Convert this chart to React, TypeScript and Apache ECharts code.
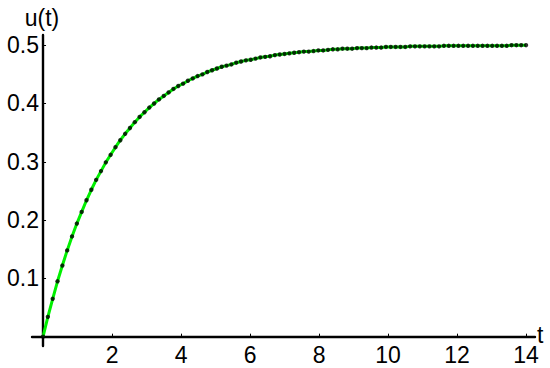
import React, { useEffect, useRef } from "react";
import * as echarts from "echarts";

const tValues = [
  0, 0.14, 0.28, 0.42, 0.56, 0.7, 0.84, 0.98, 1.12, 1.26,
  1.4, 1.54, 1.68, 1.82, 1.96, 2.1, 2.24, 2.38, 2.52, 2.66,
  2.8, 2.94, 3.08, 3.22, 3.36, 3.5, 3.64, 3.78, 3.92, 4.06,
  4.2, 4.34, 4.48, 4.62, 4.76, 4.9, 5.04, 5.18, 5.32, 5.46,
  5.6, 5.74, 5.88, 6.02, 6.16, 6.3, 6.44, 6.58, 6.72, 6.86,
  7, 7.14, 7.28, 7.42, 7.56, 7.7, 7.84, 7.98, 8.12, 8.26,
  8.4, 8.54, 8.68, 8.82, 8.96, 9.1, 9.24, 9.38, 9.52, 9.66,
  9.8, 9.94, 10.08, 10.22, 10.36, 10.5, 10.64, 10.78, 10.92, 11.06,
  11.2, 11.34, 11.48, 11.62, 11.76, 11.9, 12.04, 12.18, 12.32, 12.46,
  12.6, 12.74, 12.88, 13.02, 13.16, 13.3, 13.44, 13.58, 13.72, 13.86,
  14,
];

const uValues = [
  0, 0.034, 0.065, 0.095, 0.122, 0.148, 0.172, 0.194, 0.214, 0.234,
  0.252, 0.269, 0.284, 0.299, 0.312, 0.325, 0.337, 0.348, 0.358, 0.368,
  0.377, 0.385, 0.393, 0.4, 0.407, 0.413, 0.419, 0.425, 0.43, 0.434,
  0.439, 0.443, 0.447, 0.45, 0.454, 0.457, 0.46, 0.463, 0.465, 0.467,
  0.47, 0.472, 0.474, 0.475, 0.477, 0.479, 0.48, 0.481, 0.483, 0.484,
  0.485, 0.486, 0.487, 0.488, 0.489, 0.489, 0.49, 0.491, 0.491, 0.492,
  0.493, 0.493, 0.494, 0.494, 0.494, 0.495, 0.495, 0.495, 0.496, 0.496,
  0.496, 0.497, 0.497, 0.497, 0.497, 0.497, 0.498, 0.498, 0.498, 0.498,
  0.498, 0.498, 0.498, 0.499, 0.499, 0.499, 0.499, 0.499, 0.499, 0.499,
  0.499, 0.499, 0.499, 0.499, 0.499, 0.499, 0.499, 0.5, 0.5, 0.5,
  0.5,
];

const xTicks = [2, 4, 6, 8, 10, 12, 14];
const yTicks = [0.1, 0.2, 0.3, 0.4, 0.5];

const FONT = "Liberation Sans, Arial, Helvetica, sans-serif";

export default function App() {
  const ref = useRef<HTMLDivElement>(null);

  useEffect(() => {
    document.body.style.margin = "0";
    if (!ref.current) return;
    const chart = echarts.init(ref.current, null, { renderer: "svg" });
    const pts = tValues.map((t, i) => [t, uValues[i]]);
    chart.setOption({
      animation: false,
      backgroundColor: "#ffffff",
      grid: {
        left: 32,
        right: 15,
        top: 35,
        bottom: 22,
        containLabel: false,
        outerBoundsMode: "none",
      },
      xAxis: {
        type: "value",
        min: -0.32,
        max: 14.26,
        axisLine: { onZero: true, lineStyle: { color: "#000", width: 2.4 } },
        axisTick: {
          show: true,
          inside: true,
          length: 3,
          customValues: xTicks,
          lineStyle: { color: "#000", width: 1 },
        },
        axisLabel: {
          customValues: xTicks,
          color: "#000",
          fontSize: 23,
          fontFamily: FONT,
          margin: -3,
          formatter: (v: number) => String(v),
        },
        splitLine: { show: false },
      },
      yAxis: {
        type: "value",
        min: -0.016,
        max: 0.5175,
        axisLine: { onZero: true, lineStyle: { color: "#000", width: 2.4 } },
        axisTick: {
          show: true,
          inside: true,
          length: 3,
          customValues: yTicks,
          lineStyle: { color: "#000", width: 1 },
        },
        axisLabel: {
          customValues: yTicks,
          color: "#000",
          fontSize: 23,
          fontFamily: FONT,
          margin: -7,
          formatter: (v: number) => v.toFixed(1),
        },
        splitLine: { show: false },
      },
      graphic: [
        {
          type: "text",
          x: 42,
          y: 18,
          style: {
            text: "u(t)",
            fill: "#000",
            font: `23px ${FONT}`,
            align: "center",
            verticalAlign: "middle",
          },
        },
        {
          type: "text",
          x: 537,
          y: 335,
          style: {
            text: "t",
            fill: "#000",
            font: `23px ${FONT}`,
            align: "left",
            verticalAlign: "middle",
          },
        },
      ],
      series: [
        {
          type: "line",
          data: pts,
          showSymbol: false,
          lineStyle: { color: "#00f000", width: 3 },
          z: 2,
        },
        {
          type: "scatter",
          data: pts,
          symbol: "circle",
          symbolSize: 4.4,
          itemStyle: { color: "#000" },
          z: 3,
        },
      ],
    });
    return () => chart.dispose();
  }, []);

  return <div ref={ref} style={{ width: 550, height: 368 }} />;
}
